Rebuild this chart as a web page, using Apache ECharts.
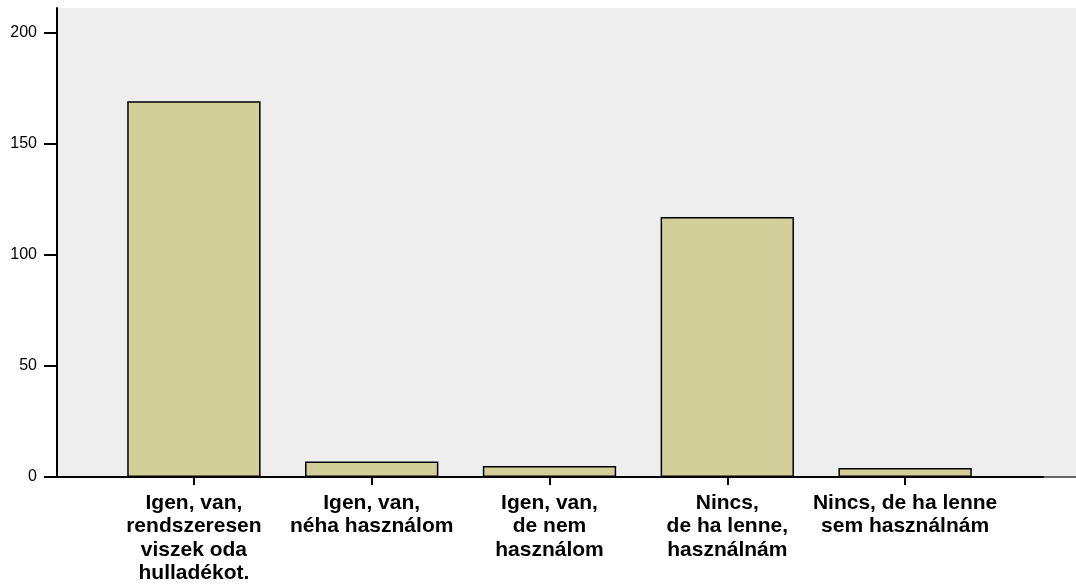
<!DOCTYPE html>
<html>
<head>
<meta charset="utf-8">
<script src="https://cdn.jsdelivr.net/npm/echarts@6/dist/echarts.min.js"></script>
<style>
  html, body { margin: 0; padding: 0; background: #fff; }
  #chart { width: 1076px; height: 585px; }
</style>
</head>
<body>
<div id="chart"></div>
<script>
const categories = [
  'Igen, van,\nrendszeresen\nviszek oda\nhulladékot.',
  'Igen, van,\nnéha használom',
  'Igen, van,\nde nem\nhasználom',
  'Nincs,\nde ha lenne,\nhasználnám',
  'Nincs, de ha lenne\nsem használnám'
]
const counts = [169, 7, 5, 117, 4]
const yTicks = [0, 50, 100, 150, 200]
const yMax = 211

const chart = echarts.init(document.getElementById('chart'))
const font = 'Arial, "Liberation Sans", sans-serif'

// grid 0: background, frame and y axis; grid 1: black base line; grid 2: bars
const emptyAxis = { min: 0, max: 1, axisLabel: { show: false }, axisTick: { show: false }, splitLine: { show: false } }

chart.setOption({
  animation: false,
  grid: [
    { left: 57, right: 0, top: 8, bottom: 108, show: true, backgroundColor: '#eeeeee', borderWidth: 0 },
    { left: 57, right: 33, top: 8, bottom: 108 },
    { left: 105, right: 82, top: 8, bottom: 108 }
  ],
  xAxis: [
    { ...emptyAxis, type: 'value', gridIndex: 0, position: 'top',
      axisLine: { show: true, lineStyle: { color: '#000', width: 2 } } },
    { ...emptyAxis, type: 'value', gridIndex: 0, position: 'bottom',
      axisLine: { show: true, lineStyle: { color: '#666', width: 2 } } },
    { ...emptyAxis, type: 'value', gridIndex: 1, position: 'bottom',
      axisLine: { show: true, lineStyle: { color: '#000', width: 2 } } },
    {
      type: 'category',
      gridIndex: 2,
      data: categories,
      axisLine: { show: false },
      axisTick: { show: true, alignWithLabel: true, length: 8, lineStyle: { color: '#000', width: 2 } },
      axisLabel: {
        interval: 0,
        margin: 14,
        color: '#000',
        fontFamily: font,
        fontWeight: 'bold',
        fontSize: 21,
        lineHeight: 23.5,
        align: 'center'
      }
    }
  ],
  yAxis: [
    {
      type: 'value',
      gridIndex: 0,
      min: 0,
      max: yMax,
      interval: 50,
      axisLine: { show: true, lineStyle: { color: '#000', width: 2 } },
      axisTick: { show: true, length: 13, customValues: yTicks, lineStyle: { color: '#000', width: 2 } },
      axisLabel: { customValues: yTicks, margin: 20, color: '#000', fontFamily: font, fontSize: 16 },
      splitLine: { show: false }
    },
    { type: 'value', gridIndex: 1, show: false, min: 0, max: 1 },
    { type: 'value', gridIndex: 2, show: false, min: 0, max: yMax }
  ],
  series: [
    {
      type: 'bar',
      xAxisIndex: 3,
      yAxisIndex: 2,
      data: counts,
      barCategoryGap: '25%',
      itemStyle: { color: '#d3cf9a', borderColor: '#000', borderWidth: 1.5 }
    }
  ]
})
</script>
</body>
</html>
